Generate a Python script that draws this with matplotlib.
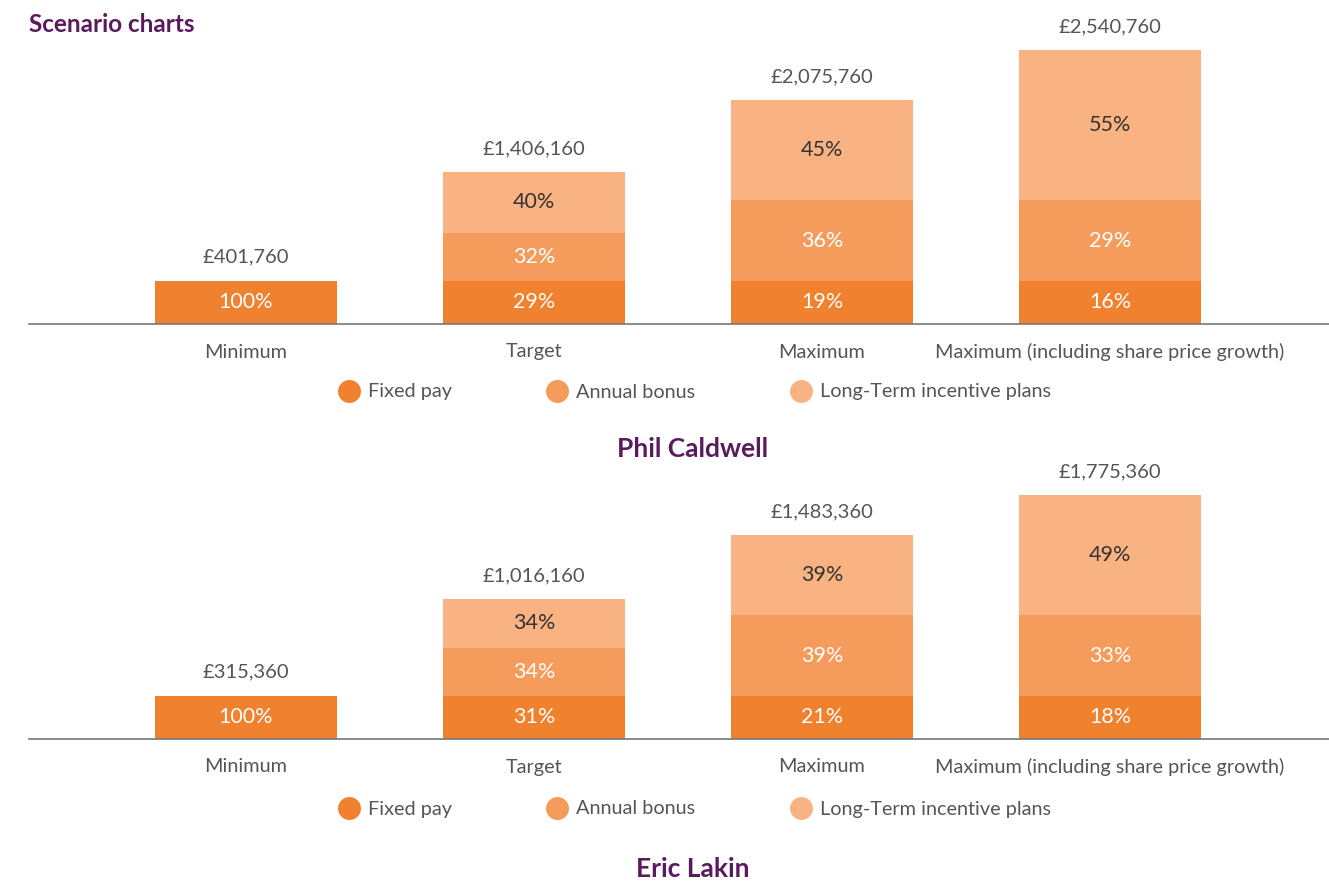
import matplotlib.pyplot as plt
from matplotlib.lines import Line2D
import numpy as np

plt.rcParams['font.family'] = ['Lato', 'DejaVu Sans']

categories = ['Minimum', 'Target', 'Maximum', 'Maximum (including share price growth)']
series = ['Fixed pay', 'Annual bonus', 'Long-Term incentive plans']

# Phil Caldwell (GBP)
phil_fixed = [401760, 401760, 401760, 401760]
phil_bonus = [0, 446400, 744000, 744000]
phil_ltip = [0, 558000, 930000, 1395000]

# Eric Lakin (GBP)
eric_fixed = [315360, 315360, 315360, 315360]
eric_bonus = [0, 350400, 584000, 584000]
eric_ltip = [0, 350400, 584000, 876000]

colors = ['#F0812E', '#F59B5B', '#F9B281']
pct_colors = ['white', 'white', '#333333']
purple = '#5B1A5E'
grey = '#555555'

W, H = 1329, 881
fig = plt.figure(figsize=(W / 100, H / 100), dpi=100)


def panel(base_px, top_px, fixed, bonus, ltip, label_px, legend_px, name, name_px):
    ax = fig.add_axes([29 / W, 1 - base_px / H, 1300 / W, (base_px - top_px) / H])
    parts = [np.array(fixed), np.array(bonus), np.array(ltip)]
    totals = parts[0] + parts[1] + parts[2]
    x = np.arange(len(categories))
    bottom = np.zeros(len(categories))
    for k, vals in enumerate(parts):
        ax.bar(x, vals, bottom=bottom, width=0.632, color=colors[k], linewidth=0)
        for i in x:
            if vals[i] > 0:
                ax.text(i, bottom[i] + vals[i] / 2, f'{round(100 * vals[i] / totals[i]):.0f}%',
                        ha='center', va='center', fontsize=15.5, color=pct_colors[k])
        bottom = bottom + vals
    for i in x:
        ax.annotate(f'£{totals[i]:,}', (i, totals[i]), xytext=(0, 17), textcoords='offset points',
                    ha='center', va='center', fontsize=14.5, color=grey, annotation_clip=False)
    ax.set_xlim(-0.753, 3.76)
    ax.set_ylim(0, totals.max())
    for s in ['top', 'right', 'left']:
        ax.spines[s].set_visible(False)
    ax.spines['bottom'].set_color('#777777')
    ax.spines['bottom'].set_linewidth(1.2)
    ax.set_yticks([])
    ax.set_xticks([])
    for i, c in zip(x, categories):
        ax.text(i, -(label_px - base_px) / (base_px - top_px), c, transform=ax.get_xaxis_transform(),
                ha='center', va='center', fontsize=14.3, color=grey)
    handles = [Line2D([], [], marker='o', linestyle='', markersize=15.5, color=c) for c in colors]
    fig.legend(handles, series, loc='center', bbox_to_anchor=(695 / W, 1 - legend_px / H),
               ncol=3, frameon=False, fontsize=14.3, labelcolor=grey, handletextpad=0.45,
               columnspacing=4.8, handlelength=1.0)
    fig.text(693 / W, 1 - name_px / H, name, ha='center', va='center', fontsize=19,
             fontweight='bold', color=purple)


panel(324, 50, phil_fixed, phil_bonus, phil_ltip, 352, 392, 'Phil Caldwell', 449)
panel(739, 495, eric_fixed, eric_bonus, eric_ltip, 767, 809, 'Eric Lakin', 869)

fig.text(29 / W, 1 - 24 / H, 'Scenario charts', ha='left', va='center', fontsize=17.5,
         fontweight='bold', color=purple)

fig.savefig('out.png', dpi=100)
